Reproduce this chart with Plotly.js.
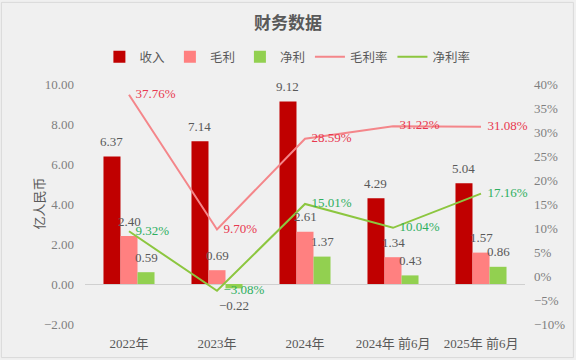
<!DOCTYPE html>
<html><head><meta charset="utf-8">
<script src="https://cdn.plot.ly/plotly-3.0.1.min.js"></script>
<style>html,body{margin:0;padding:0;background:#fff}#c{width:576px;height:360px}</style>
</head><body><div id="c"></div>
<script>
const categories = ['2022年','2023年','2024年','2024年 前6月','2025年 前6月'];
const revenue = [6.37, 7.14, 9.12, 4.29, 5.04];
const grossProfit = [2.40, 0.69, 2.61, 1.34, 1.57];
const netProfit = [0.59, -0.22, 1.37, 0.43, 0.86];
const grossMargin = [37.76, 9.70, 28.59, 31.22, 31.08];
const netMargin = [9.32, -3.08, 15.01, 10.04, 17.16];
const leftTicks = [-2, 0, 2, 4, 6, 8, 10];
const rightTicks = [-10, -5, 0, 5, 10, 15, 20, 25, 30, 35, 40];

const F = 'Liberation Serif, "Noto Sans CJK SC", serif';
const BARGAP = 0.42;
const fmt = v => v.toFixed(2).replace('-', '−');
function bar(name, y, color) {
  return {type: 'bar', name, x: categories, y, marker: {color}, hoverinfo: 'none'};
}
const NB = '\u00a0\u00a0';
const data = [
  bar('收入', revenue, '#C00000'),
  bar('毛利', grossProfit, '#FF8080'),
  bar('净利', netProfit, '#92D050'),
  {type: 'scatter', mode: 'lines+text', name: '毛利率', x: categories, y: grossMargin, yaxis: 'y2',
   line: {color: '#F4868A', width: 2}, text: grossMargin.map(v => NB + v.toFixed(2) + '%'),
   textposition: 'middle right', textfont: {family: F, size: 13, color: '#E8384F'}, cliponaxis: false},
  {type: 'scatter', mode: 'lines+text', name: '净利率', x: categories, y: netMargin, yaxis: 'y2',
   line: {color: '#8CC63F', width: 2}, text: netMargin.map(v => NB + fmt(v) + '%'),
   textposition: 'middle right', textfont: {family: F, size: 13, color: '#2EAF5F'}, cliponaxis: false}
];
// bar value labels placed through the category axis (index + group offset)
const w = (1 - BARGAP) / 3;
const annotations = [];
[revenue, grossProfit, netProfit].forEach((arr, k) => {
  arr.forEach((v, i) => {
    annotations.push({xref: 'x', yref: 'y', x: i + (k - 1) * w, y: v, text: fmt(v),
      showarrow: false, yanchor: 'middle', yshift: v >= 0 ? 15 : -17,
      font: {family: F, size: 13, color: '#595959'}});
  });
});
annotations.push({text: '亿人民币', xref: 'paper', yref: 'paper', x: -0.127, y: 0.5,
  textangle: -90, showarrow: false, font: {family: F, size: 13, color: '#595959'}});

const layout = {
  width: 576, height: 360,
  paper_bgcolor: '#F0F0F0', plot_bgcolor: '#F0F0F0',
  margin: {l: 85, r: 51, t: 84, b: 36},
  font: {family: F, color: '#7F7F7F', size: 12},
  title: {text: '<b>财务数据</b>', x: 0.5, xanchor: 'center', y: 0.937, yanchor: 'middle',
          font: {family: F, size: 17, color: '#595959'}},
  barmode: 'group', bargap: BARGAP, bargroupgap: 0,
  showlegend: true,
  legend: {orientation: 'h', x: 0.46, xanchor: 'center', y: 1.112, yanchor: 'middle',
           font: {family: F, size: 12.5, color: '#595959'}, bgcolor: 'rgba(0,0,0,0)',
           itemwidth: 30, traceorder: 'normal'},
  xaxis: {type: 'category', showgrid: false, showline: false, zeroline: false,
          tickfont: {family: F, size: 13, color: '#595959'}, ticks: '', ticklabelstandoff: 10},
  yaxis: {range: [-2, 10], tickvals: leftTicks, ticktext: leftTicks.map(fmt),
          showgrid: false, zeroline: true, zerolinecolor: '#D0D0D0', zerolinewidth: 1,
          tickfont: {family: F, size: 13, color: '#7F7F7F'}, showline: false, ticklabelstandoff: 10},
  yaxis2: {range: [-10, 40], overlaying: 'y', side: 'right', tickvals: rightTicks,
           ticktext: rightTicks.map(v => (v < 0 ? '−' + (-v) : v) + '%'),
           showgrid: false, zeroline: false, showline: false, ticklabelstandoff: 8,
           tickfont: {family: F, size: 13, color: '#7F7F7F'}},
  annotations,
  shapes: [{type: 'rect', xref: 'paper', yref: 'paper', x0: -0.19, x1: 1.11, y0: -0.14, y1: 1.34,
            line: {color: '#D9D9D9', width: 1}, layer: 'below'}]
};
Plotly.newPlot('c', data, layout, {displayModeBar: false, staticPlot: true});
</script></body></html>
